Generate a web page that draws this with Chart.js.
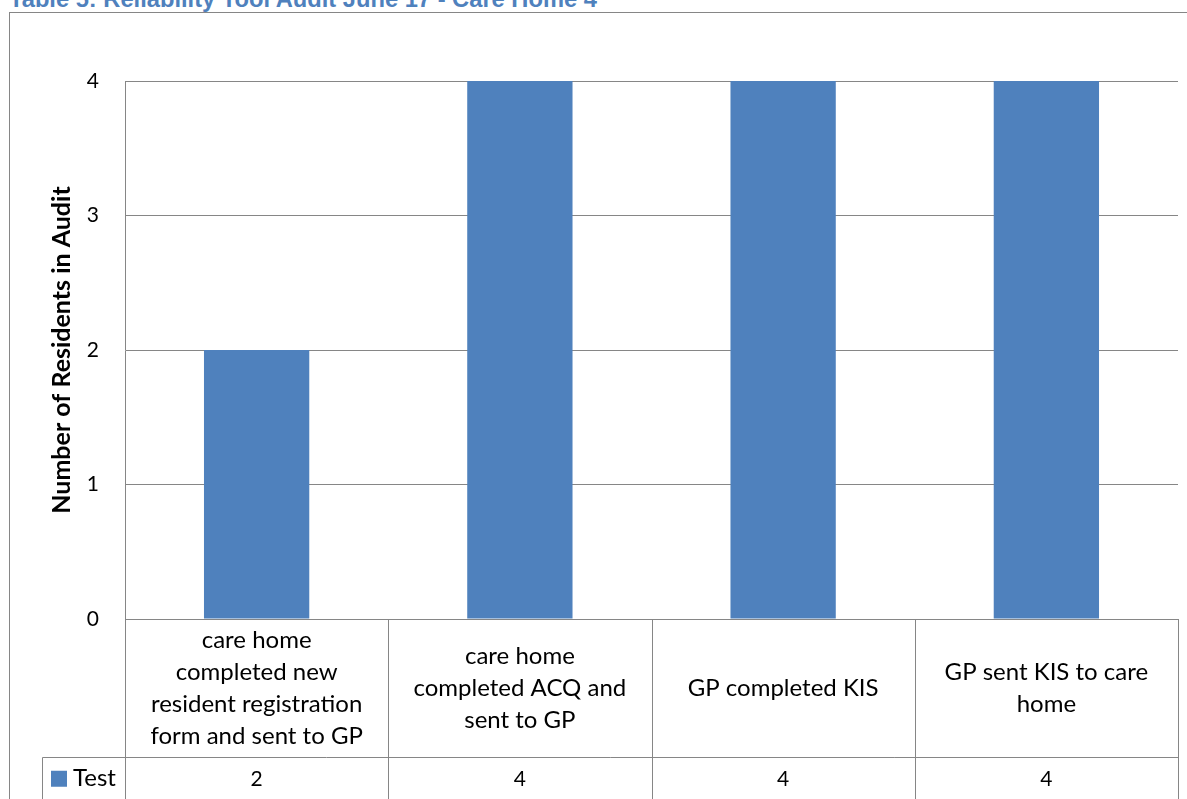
<!DOCTYPE html>
<html>
<head>
<meta charset="utf-8">
<script src="https://cdn.jsdelivr.net/npm/chart.js@4"></script>
<style>
  body { margin: 0; background: #fff; overflow: hidden; }
  #titulo {
    position: absolute; left: 9px; top: -12px; margin: 0;
    font: bold 23.7px "Liberation Sans", Arial, sans-serif; line-height: 23.7px;
    color: #4F81BD; white-space: nowrap;
  }
  #marco {
    position: absolute; left: 9px; top: 12px; width: 1300px; height: 900px;
    border: 1px solid #868686; pointer-events: none;
  }
  #lienzo { position: absolute; left: 0; top: 0; }
</style>
</head>
<body>
<p id="titulo">Table 5: Reliability Tool Audit June 17 - Care Home 4</p>
<div id="marco"></div>
<canvas id="lienzo" width="1187" height="799"></canvas>
<script>
//Categorias del eje x, ya partidas en lineas como se muestran en la tabla
let categorias = [
  ['care home', 'completed new', 'resident registration', 'form and sent to GP'],
  ['care home', 'completed ACQ and', 'sent to GP'],
  ['GP completed KIS'],
  ['GP sent KIS to care', 'home']
];
let serieNombre = 'Test';
let serieValores = [2, 4, 4, 4];
let ticksY = [0, 1, 2, 3, 4];

let gris = '#868686';
let azul = '#4F81BD';
let fuente = 'Lato, "Open Sans", sans-serif';

//Tabla de datos debajo del grafico: divisiones, fila de valores y leyenda
let tablaDatos = {
  id: 'tablaDatos',
  afterDraw(chart) {
    let ctx = chart.ctx;
    let x = chart.scales.x;
    let n = categorias.length;
    let ancho = (x.right - x.left) / n;
    let abajo = chart.height;
    let filaY = 757.5;
    let izq = 42.5;

    ctx.save();
    ctx.strokeStyle = gris;
    ctx.lineWidth = 1;
    ctx.beginPath();
    for (let i = 0; i <= n; i++) {
      let px = Math.round(x.left + i * ancho) + 0.5;
      ctx.moveTo(px, x.top);
      ctx.lineTo(px, abajo);
    }
    ctx.moveTo(izq, filaY);
    ctx.lineTo(x.right, filaY);
    ctx.moveTo(izq, filaY);
    ctx.lineTo(izq, abajo);
    ctx.stroke();

    //Valores de la serie centrados en cada columna
    ctx.fillStyle = '#000';
    ctx.font = '21px ' + fuente;
    ctx.textAlign = 'center';
    ctx.textBaseline = 'middle';
    let valorY = (filaY + abajo + 1) / 2;
    serieValores.forEach((v, i) => {
      ctx.fillText(String(v), x.getPixelForValue(i), valorY);
    });

    //Clave de la leyenda
    ctx.fillStyle = azul;
    ctx.fillRect(51, valorY - 8, 16, 16);
    ctx.fillStyle = '#000';
    ctx.textAlign = 'left';
    ctx.font = '24px ' + fuente;
    ctx.fillText(serieNombre, 73, valorY);
    ctx.restore();
  }
};

let config = {
  type: 'bar',
  data: {
    labels: categorias,
    datasets: [
      {
        label: serieNombre,
        data: serieValores,
        backgroundColor: azul,
        barPercentage: 0.4,
        categoryPercentage: 1
      }
    ]
  },
  options: {
    responsive: false,
    animation: false,
    layout: { padding: { top: 81, right: 9, left: 0, bottom: 0 } },
    plugins: {
      legend: { display: false },
      tooltip: { enabled: false }
    },
    scales: {
      x: {
        grid: { display: false },
        border: { display: true, color: gris, width: 1 },
        ticks: {
          color: '#000',
          padding: 13,
          maxRotation: 0,
          autoSkip: false,
          crossAlign: 'center',
          font: { family: fuente, size: 24, lineHeight: '32px' }
        },
        afterFit: (escala) => { escala.height = 180; }
      },
      y: {
        min: 0,
        max: 4,
        afterBuildTicks: (escala) => { escala.ticks = ticksY.map(v => ({ value: v })); },
        grid: { color: gris, drawTicks: false },
        border: { display: true, color: gris, width: 1 },
        ticks: {
          color: '#000',
          padding: 26,
          font: { family: fuente, size: 21 }
        },
        title: {
          display: true,
          text: 'Number of Residents in Audit',
          color: '#000',
          padding: { top: 47, bottom: 0 },
          font: { family: fuente, size: 25, weight: 'bold' }
        },
        afterFit: (escala) => { escala.width = 125; }
      }
    }
  },
  plugins: [tablaDatos]
};

let grafico = new Chart(document.getElementById('lienzo'), config);
</script>
</body>
</html>
